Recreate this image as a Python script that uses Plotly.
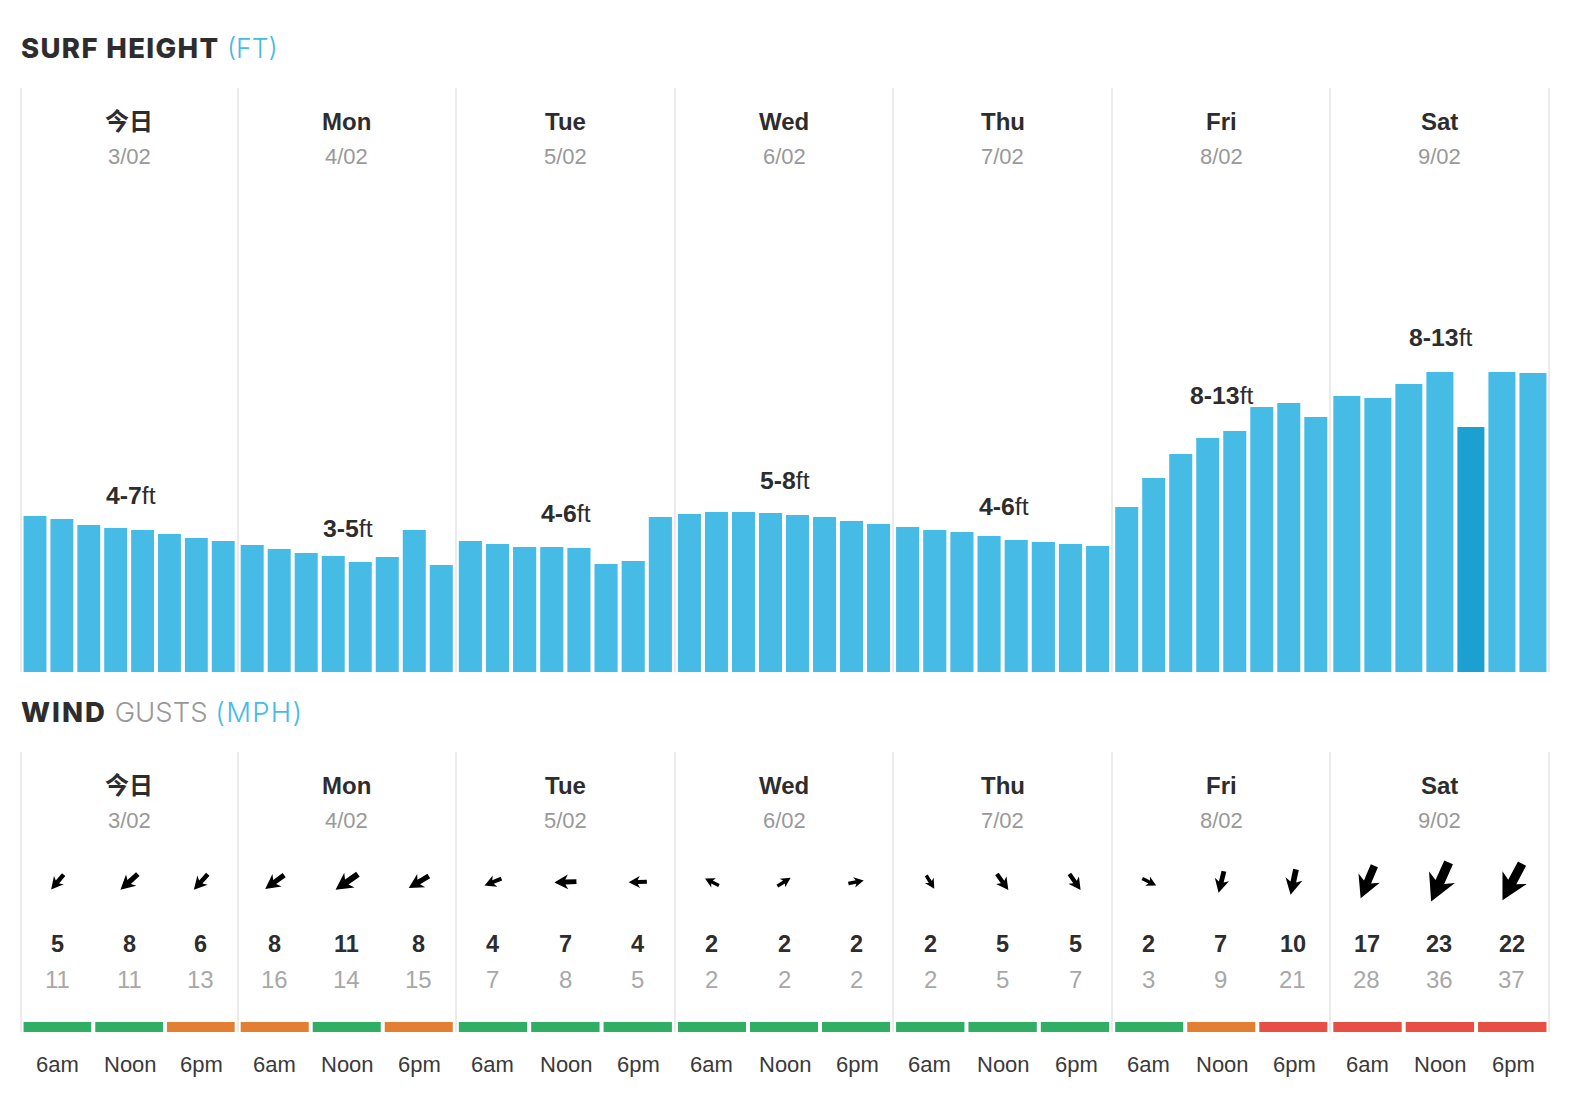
import math
import plotly.graph_objects as go

# ---------- data ----------
days = ["今日", "Mon", "Tue", "Wed", "Thu", "Fri", "Sat"]
dates = ["3/02", "4/02", "5/02", "6/02", "7/02", "8/02", "9/02"]
surf_labels = ["4-7", "3-5", "4-6", "5-8", "4-6", "8-13", "8-13"]
surf_today = [6.76, 6.63, 6.37, 6.24, 6.15, 5.98, 5.81, 5.68]
surf_mon = [5.50, 5.33, 5.16, 5.03, 4.77, 4.98, 6.15, 4.64]
surf_tue = [5.68, 5.55, 5.42, 5.42, 5.37, 4.68, 4.81, 6.72]
surf_wed = [6.85, 6.93, 6.93, 6.89, 6.80, 6.72, 6.54, 6.41]
surf_thu = [6.28, 6.15, 6.07, 5.89, 5.72, 5.63, 5.55, 5.46]
surf_fri = [7.15, 8.41, 9.45, 10.14, 10.44, 11.48, 11.66, 11.05]
surf_sat = [11.96, 11.87, 12.48, 13.0, 10.62, 13.0, 12.96]
surf_all = [surf_today, surf_mon, surf_tue, surf_wed, surf_thu, surf_fri, surf_sat]
times = ["6am", "Noon", "6pm"]
wind = [5, 8, 6, 8, 11, 8, 4, 7, 4, 2, 2, 2, 2, 5, 5, 2, 7, 10, 17, 23, 22]
gusts = [11, 11, 13, 16, 14, 15, 7, 8, 5, 2, 2, 2, 2, 5, 7, 3, 9, 21, 28, 36, 37]
wind_from_deg = [40, 48, 42, 54, 55, 59, 68, 88, 88, 117, 238, 259,
                 329, 324, 325, 297, 14, 12, 23, 24, 28]
rating = ["g", "g", "o", "o", "g", "o", "g", "g", "g", "g", "g", "g",
          "g", "g", "g", "g", "o", "r", "r", "r", "r"]

# ---------- style / layout ----------
W, H = 1582, 1108
LEFT, RIGHT = 21, 1549
PX = (RIGHT - LEFT) / 168  # pixels per forecast hour
PAD = 0.5                  # axis padding (hours) so the outer grid lines show
COLUMN_EDGES_PX = [21, 238, 456, 675, 893, 1112, 1330, 1549]
EDGE_H = [(e - LEFT) / PX for e in COLUMN_EDGES_PX]
SURF_TOP, SURF_BASE = 88, 672
WIND_TOP, WIND_BASE = 752, 1032
FT_PX = 300 / 13
BLUE, DARKBLUE = "#45bbe6", "#1ca0d1"
RATE = {"g": "#30ae63", "o": "#e37f33", "r": "#e74f44"}
INK, GREY, LIGHT, GRID = "#2d2d2d", "#999999", "#a8a8a8", "#ebebeb"
SANS = "Liberation Sans, Noto Sans CJK SC, sans-serif"
HEAD = "Inter, sans-serif"
MARGIN_H, GAP_H = 3 / PX, 4 / PX


def slots(day, n):
    """centres and width (hours) of n bars filling a day column"""
    span = EDGE_H[day + 1] - EDGE_H[day]
    w = (span - 2 * MARGIN_H - GAP_H * (n - 1)) / n
    return [EDGE_H[day] + MARGIN_H + w / 2 + i * (w + GAP_H) for i in range(n)], w


def centre(day):
    return (EDGE_H[day] + EDGE_H[day + 1]) / 2


fig = go.Figure()

# surf bars
xs, ws, ys, cols = [], [], [], []
for d, vals in enumerate(surf_all):
    c, w = slots(d, len(vals))
    for i, v in enumerate(vals):
        xs.append(c[i]); ws.append(w); ys.append(v)
        cols.append(DARKBLUE if (d == 6 and i == 4) else BLUE)
fig.add_trace(go.Bar(x=xs, y=ys, width=ws, marker=dict(color=cols, line=dict(width=0)),
                     xaxis="x", yaxis="y", hoverinfo="skip"))

# wind rating bars
xs, ws = [], []
col_centres = []
for d in range(7):
    c, w = slots(d, 3)
    col_centres += c
    xs += c; ws += [w] * 3
cols = [RATE[r] for r in rating]
fig.add_trace(go.Bar(x=xs, y=[10] * 21, width=ws, marker=dict(color=cols, line=dict(width=0)),
                     xaxis="x2", yaxis="y2", hoverinfo="skip"))

# wind arrows
SHAPE = [(0, 0), (.62, .33), (.5, .11), (1, .11), (1, -.11), (.5, -.11), (.62, -.33), (0, 0)]
AY = WIND_BASE - 882
ax, ay = [], []
for cx, v, deg in zip(col_centres, wind, wind_from_deg):
    L = 13 + 1.3 * v
    t = math.radians(deg)
    ux, uy = math.sin(t), math.cos(t)      # from tip towards tail
    px_, py_ = uy, -ux
    for a, b in SHAPE:
        dx = (a - .5) * L * ux + b * L * px_
        dy = (a - .5) * L * uy + b * L * py_
        ax.append(cx + dx / PX); ay.append(AY + dy)
    ax.append(None); ay.append(None)
fig.add_trace(go.Scatter(x=ax, y=ay, mode="lines", fill="toself", fillcolor="#000000",
                         line=dict(width=0, color="#000000"), xaxis="x2", yaxis="y2",
                         hoverinfo="skip"))


def py(p):
    return 1 - p / H


def txt(x, y, text, size, color=INK, fam=SANS, xref="x", anchor="center", weight=None):
    f = dict(family=fam, size=size, color=color)
    if weight:
        f["weight"] = weight
    fig.add_annotation(x=x, y=py(y), xref=xref, yref="paper", text=text, showarrow=False,
                       xanchor=anchor, yanchor="middle", font=f, align=anchor, borderpad=0)


# titles
txt(-1 / PX, 48,
    '<span style="font-weight:800;letter-spacing:1.35px">SURF HEIGHT</span>'
    f'<span style="color:{BLUE};font-size:26.5px"> (FT)</span>',
    27.5, INK, HEAD, "x", "left", 300)
txt(-1 / PX, 712,
    '<span style="font-weight:800;letter-spacing:2px">WIND</span> '
    f'<span style="color:{GREY}">GUSTS</span> '
    f'<span style="color:{BLUE};letter-spacing:1.3px">(MPH)</span>',
    27.5, INK, HEAD, "x", "left", 300)

# day headers
for top in (0, WIND_TOP - SURF_TOP):
    for d in range(7):
        cx = centre(d)
        txt(cx, 121 + top, f"<b>{days[d]}</b>", 24)
        txt(cx, 156 + top, dates[d], 22, GREY)

# surf range labels
lab_y = [496, 528, 514, 481, 506, 396, 337]
lab_dx = [1.5, 1, 0.5, 0.5, 1, 0.5, 1]
for d, s in enumerate(surf_labels):
    txt(centre(d) + lab_dx[d] / PX, lab_y[d], f"<b>{s}</b>ft", 24.8)

# wind numbers
for i, cx in enumerate(col_centres):
    num_off = 0 if i < 15 else -0.7
    txt(cx + num_off / PX, 944, f"<b>{wind[i]}</b>", 23.5)
    txt(cx + num_off / PX, 979, str(gusts[i]), 24, LIGHT)
    off = [-0.3, 1, 1][i % 3]
    txt(cx + off / PX, 1064, times[i % 3], 22, "#3a3a3a")

axis_x = dict(domain=[0, 1], range=[-PAD, 168 + PAD], tickmode="array", tickvals=EDGE_H,
              showgrid=True, gridcolor=GRID, gridwidth=2, zeroline=False, showticklabels=False,
              ticks="", showline=False, fixedrange=True)
fig.update_layout(
    width=W, height=H,
    margin=dict(l=LEFT - PAD * PX, r=W - RIGHT - PAD * PX, t=0, b=0, autoexpand=False),
    paper_bgcolor="white", plot_bgcolor="white", showlegend=False, barmode="overlay",
    font=dict(family=SANS),
    xaxis=dict(axis_x, anchor="y"),
    xaxis2=dict(axis_x, anchor="y2"),
    yaxis=dict(domain=[py(SURF_BASE), py(SURF_TOP)], range=[0, (SURF_BASE - SURF_TOP) / FT_PX],
               visible=False, anchor="x", fixedrange=True),
    yaxis2=dict(domain=[py(WIND_BASE), py(WIND_TOP)], range=[0, WIND_BASE - WIND_TOP],
                visible=False, anchor="x2", fixedrange=True),
)
fig.write_html("out.html", config=dict(displayModeBar=False),
               post_script="document.body.style.margin='0';document.documentElement.style.overflow='hidden';")
